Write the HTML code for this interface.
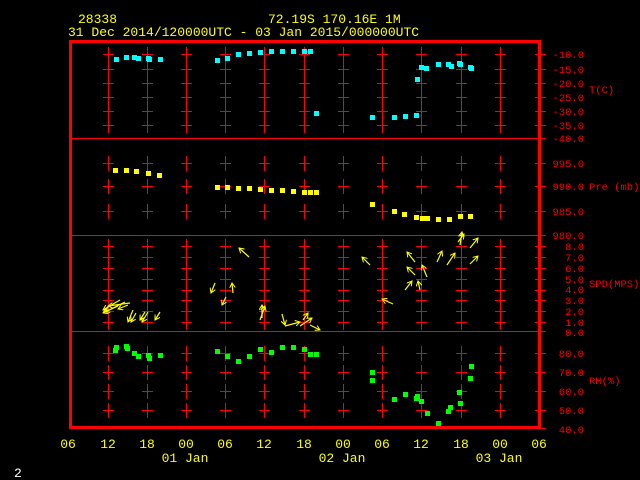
<!DOCTYPE html><html><head><style>body{margin:0;background:#000}svg{display:block}text{font-family:"Liberation Mono",monospace;font-size:13px}.r text{font-size:10.5px}</style></head><body>
<svg width="640" height="480" xmlns="http://www.w3.org/2000/svg">
<defs>
<marker id="a" markerWidth="6" markerHeight="6" refX="5" refY="3" orient="auto" markerUnits="userSpaceOnUse"><path d="M0,0L5,3L0,6" fill="none" stroke="#ff0" stroke-width="1"/></marker>
<path id="col" stroke="#f00" stroke-width="1" fill="none" d="M0.5 47v15M-5 54.5h11M0.5 62v15M-5 69.5h11M0.5 76v15M-5 83.5h11M0.5 90v15M-5 97.5h11M0.5 104v15M-5 111.5h11M0.5 118v15M-5 125.5h11M0.5 156v15M-5 163.5h11M0.5 179v15M-5 186.5h11M0.5 204v15M-5 211.5h11M0.5 239v15M-5 246.5h11M0.5 250v15M-5 257.5h11M0.5 261v15M-5 268.5h11M0.5 272v15M-5 279.5h11M0.5 283v15M-5 290.5h11M0.5 293v15M-5 300.5h11M0.5 304v15M-5 311.5h11M0.5 315v15M-5 322.5h11M0.5 346v15M-5 353.5h11M0.5 365v15M-5 372.5h11M0.5 384v15M-5 391.5h11M0.5 403v15M-5 410.5h11"/>
</defs>
<g fill="#ff0">
<text x="78" y="23">28338</text><text x="268" y="23">72.19S  170.16E     1M</text>
<text x="68" y="36">31 Dec 2014/120000UTC - 03 Jan 2015/000000UTC</text>
<g text-anchor="middle"><text x="68" y="448">06</text><text x="108" y="448">12</text><text x="147" y="448">18</text><text x="186" y="448">00</text><text x="225" y="448">06</text><text x="264" y="448">12</text><text x="304" y="448">18</text><text x="343" y="448">00</text><text x="382" y="448">06</text><text x="421" y="448">12</text><text x="461" y="448">18</text><text x="500" y="448">00</text><text x="539" y="448">06</text>
<text x="185" y="462">01 Jan</text><text x="342" y="462">02 Jan</text><text x="499" y="462">03 Jan</text></g>
</g>
<text x="14" y="477" fill="#fff">2</text>
<g class="r" fill="#f00" text-anchor="end">
<text x="584" y="58">-10.0</text><text x="584" y="73">-15.0</text><text x="584" y="87">-20.0</text><text x="584" y="101">-25.0</text><text x="584" y="115">-30.0</text><text x="584" y="129">-35.0</text><text x="584" y="142">-40.0</text>
<text x="584" y="167">995.0</text><text x="584" y="190">990.0</text><text x="584" y="215">985.0</text><text x="584" y="239">980.0</text>
<text x="584" y="250">8.0</text><text x="584" y="261">7.0</text><text x="584" y="272">6.0</text><text x="584" y="283">5.0</text><text x="584" y="293">4.0</text><text x="584" y="304">3.0</text><text x="584" y="315">2.0</text><text x="584" y="326">1.0</text><text x="584" y="336">0.0</text>
<text x="584" y="357">80.0</text><text x="584" y="376">70.0</text><text x="584" y="395">60.0</text><text x="584" y="414">50.0</text><text x="584" y="433">40.0</text>
</g>
<g class="r" fill="#f00"><text x="589" y="93">T(C)</text><text x="589" y="190">Pre (mb)</text><text x="589" y="287">SPD(MPS)</text><text x="589" y="384">RH(%)</text></g>
<g stroke="#f00" stroke-width="1">
<line x1="70" y1="138.5" x2="540" y2="138.5"/><line x1="70" y1="235.5" x2="540" y2="235.5"/><line x1="70" y1="331.5" x2="540" y2="331.5"/>
</g>
<use href="#col" x="108"/><use href="#col" x="147"/><use href="#col" x="186"/><use href="#col" x="225"/><use href="#col" x="264"/><use href="#col" x="304"/><use href="#col" x="343"/><use href="#col" x="382"/><use href="#col" x="421"/><use href="#col" x="461"/><use href="#col" x="500"/>
<path stroke="#f00" stroke-width="1" d="M535 54.5h11M535 69.5h11M535 83.5h11M535 97.5h11M535 111.5h11M535 125.5h11M535 138.5h11M535 163.5h11M535 186.5h11M535 211.5h11M535 235.5h11M535 246.5h11M535 257.5h11M535 268.5h11M535 279.5h11M535 290.5h11M535 300.5h11M535 311.5h11M535 322.5h11M535 331.5h11M535 353.5h11M535 372.5h11M535 391.5h11M535 410.5h11M535 428.5h11"/>
<rect x="70.5" y="41.5" width="469" height="386" fill="none" stroke="#f00" stroke-width="3"/>
<path fill="#0ff" d="M114 57h5v5h-5zM124 55h5v5h-5zM132 55h5v5h-5zM136 56h5v5h-5zM146 56h5v5h-5zM147 57h5v5h-5zM158 57h5v5h-5zM215 58h5v5h-5zM225 56h5v5h-5zM236 52h5v5h-5zM247 51h5v5h-5zM258 50h5v5h-5zM269 49h5v5h-5zM280 49h5v5h-5zM291 49h5v5h-5zM302 49h5v5h-5zM308 49h5v5h-5zM314 111h5v5h-5zM370 115h5v5h-5zM392 115h5v5h-5zM403 114h5v5h-5zM414 113h5v5h-5zM415 77h5v5h-5zM419 65h5v5h-5zM424 66h5v5h-5zM436 62h5v5h-5zM446 62h5v5h-5zM449 64h5v5h-5zM457 61h5v5h-5zM458 62h5v5h-5zM468 65h5v5h-5zM469 66h5v5h-5z"/>
<path fill="#ff0" d="M113 168h5v5h-5zM124 168h5v5h-5zM134 169h5v5h-5zM146 171h5v5h-5zM157 173h5v5h-5zM215 185h5v5h-5zM225 185h5v5h-5zM236 186h5v5h-5zM247 186h5v5h-5zM258 187h5v5h-5zM269 188h5v5h-5zM280 188h5v5h-5zM291 189h5v5h-5zM302 190h5v5h-5zM308 190h5v5h-5zM314 190h5v5h-5zM370 202h5v5h-5zM392 209h5v5h-5zM402 212h5v5h-5zM414 215h5v5h-5zM420 216h5v5h-5zM425 216h5v5h-5zM436 217h5v5h-5zM447 217h5v5h-5zM458 214h5v5h-5zM468 214h5v5h-5z"/>
<path fill="#0f0" d="M113 348h5v5h-5zM114 345h5v5h-5zM124 344h5v5h-5zM125 346h5v5h-5zM132 351h5v5h-5zM136 354h5v5h-5zM146 353h5v5h-5zM147 356h5v5h-5zM158 353h5v5h-5zM215 349h5v5h-5zM225 354h5v5h-5zM236 359h5v5h-5zM247 354h5v5h-5zM258 347h5v5h-5zM269 350h5v5h-5zM280 345h5v5h-5zM291 345h5v5h-5zM302 347h5v5h-5zM308 352h5v5h-5zM314 352h5v5h-5zM370 370h5v5h-5zM370 378h5v5h-5zM392 397h5v5h-5zM403 392h5v5h-5zM414 396h5v5h-5zM415 394h5v5h-5zM419 399h5v5h-5zM425 411h5v5h-5zM436 421h5v5h-5zM446 409h5v5h-5zM448 405h5v5h-5zM457 390h5v5h-5zM458 401h5v5h-5zM468 376h5v5h-5zM469 364h5v5h-5z"/>
<g stroke="#ff0" stroke-width="1.2" fill="none" marker-end="url(#a)">
<line x1="249" y1="257" x2="239" y2="248"/><line x1="215" y1="283" x2="211" y2="293"/><line x1="233" y1="293" x2="232" y2="283"/><line x1="226" y1="297" x2="222" y2="305"/>
<line x1="125" y1="302" x2="105" y2="312"/><line x1="120" y1="300" x2="103" y2="310"/><line x1="130" y1="303" x2="108" y2="306"/><line x1="118" y1="306" x2="103" y2="313"/><line x1="128" y1="305" x2="118" y2="309"/>
<line x1="133" y1="310" x2="128" y2="322"/><line x1="136" y1="313" x2="131" y2="322"/><line x1="148" y1="312" x2="142" y2="322"/><line x1="160" y1="312" x2="155" y2="320"/><line x1="145" y1="312" x2="140" y2="320"/>
<line x1="262" y1="318" x2="262" y2="305"/><line x1="260" y1="320" x2="265" y2="306"/><line x1="282" y1="314" x2="285" y2="325"/><line x1="285" y1="326" x2="300" y2="322"/><line x1="300" y1="326" x2="312" y2="318"/><line x1="310" y1="325" x2="320" y2="330"/><line x1="303" y1="320" x2="308" y2="313"/>
<line x1="370" y1="265" x2="362" y2="257"/><line x1="393" y1="304" x2="382" y2="299"/><line x1="415" y1="262" x2="407" y2="252"/><line x1="415" y1="275" x2="407" y2="267"/><line x1="405" y1="290" x2="412" y2="281"/><line x1="420" y1="290" x2="418" y2="281"/><line x1="427" y1="277" x2="422" y2="265"/><line x1="437" y1="262" x2="442" y2="251"/><line x1="447" y1="265" x2="455" y2="253"/><line x1="470" y1="264" x2="478" y2="256"/><line x1="470" y1="248" x2="478" y2="238"/><line x1="460" y1="245" x2="462" y2="232"/><line x1="458" y1="242" x2="464" y2="234"/>
</g>
</svg></body></html>
